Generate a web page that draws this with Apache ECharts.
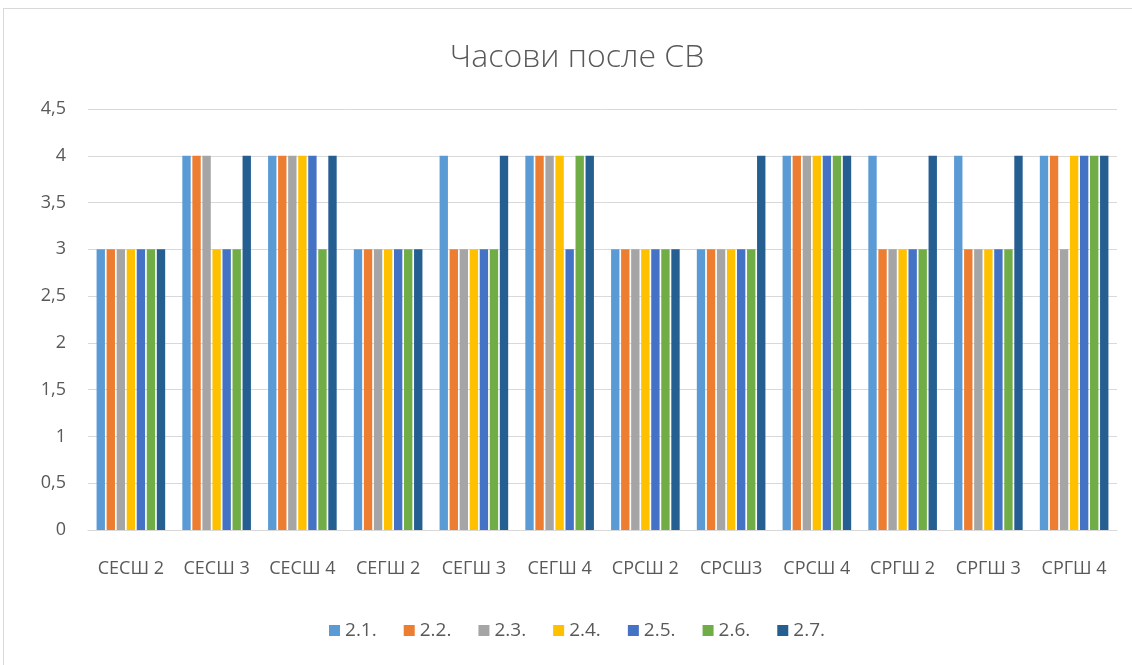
<!DOCTYPE html>
<html>
<head>
<meta charset="utf-8">
<script src="https://cdn.jsdelivr.net/npm/echarts@6/dist/echarts.min.js"></script>
<style>
html,body{margin:0;padding:0;background:#fff;overflow:hidden;width:1132px;height:665px;}
#frame{position:absolute;left:3px;top:8px;width:1150px;height:680px;border:1px solid #d9d9d9;box-sizing:border-box;}
#chart{position:absolute;left:0;top:0;width:1154px;height:665px;}
</style>
</head>
<body>
<div id="frame"></div>
<div id="chart"></div>
<script>
const categories = ['СЕСШ 2','СЕСШ 3','СЕСШ 4','СЕГШ 2','СЕГШ 3','СЕГШ 4','СРСШ 2','СРСШ3','СРСШ 4','СРГШ 2','СРГШ 3','СРГШ 4'];
const seriesNames = ['2.1.','2.2.','2.3.','2.4.','2.5.','2.6.','2.7.'];
const s21 = [3,4,4,3,4,4,3,3,4,4,4,4];
const s22 = [3,4,4,3,3,4,3,3,4,3,3,4];
const s23 = [3,4,4,3,3,4,3,3,4,3,3,3];
const s24 = [3,3,4,3,3,4,3,3,4,3,3,4];
const s25 = [3,3,4,3,3,3,3,3,4,3,3,4];
const s26 = [3,3,3,3,3,4,3,3,4,3,3,4];
const s27 = [3,4,4,3,4,4,3,4,4,4,4,4];
const seriesData = [s21,s22,s23,s24,s25,s26,s27];
const colors = ['#5B9BD5','#ED7D31','#A5A5A5','#FFC000','#4472C4','#70AD47','#255E91'];

const chart = echarts.init(document.getElementById('chart'), null, {renderer:'canvas'});
const font = '"Open Sans", "Noto Sans", sans-serif';
chart.setOption({
  animation:false,
  color: colors,
  title:{
    text:'Часови после СВ',
    left:'center',
    top:37,
    textStyle:{fontFamily:font,fontWeight:300,fontSize:32,color:'#595959'}
  },
  legend:{
    bottom:20,
    left:'center',
    itemWidth:11,
    itemHeight:11,
    itemGap:27,
    icon:'rect',
    textStyle:{fontFamily:font,fontSize:19,color:'#595959'},
    data:seriesNames
  },
  grid:{left:88,right:37,top:109,bottom:135},
  xAxis:{
    type:'category',
    data:categories,
    axisLine:{lineStyle:{color:'#d9d9d9'}},
    axisTick:{show:false},
    axisLabel:{fontFamily:font,fontSize:18,color:'#595959',margin:30,interval:0}
  },
  yAxis:{
    type:'value',
    min:0,max:4.5,interval:0.5,
    axisLine:{show:false},
    axisTick:{show:false},
    splitLine:{lineStyle:{color:'#d9d9d9'}},
    axisLabel:{fontFamily:font,fontSize:18,color:'#595959',margin:22,
      formatter:v=>String(v).replace('.',',')}
  },
  series: seriesNames.map((n,i)=>({
    name:n,type:'bar',data:seriesData[i],
    barGap:'20%',barCategoryGap:'20%'
  }))
});
</script>
</body>
</html>
